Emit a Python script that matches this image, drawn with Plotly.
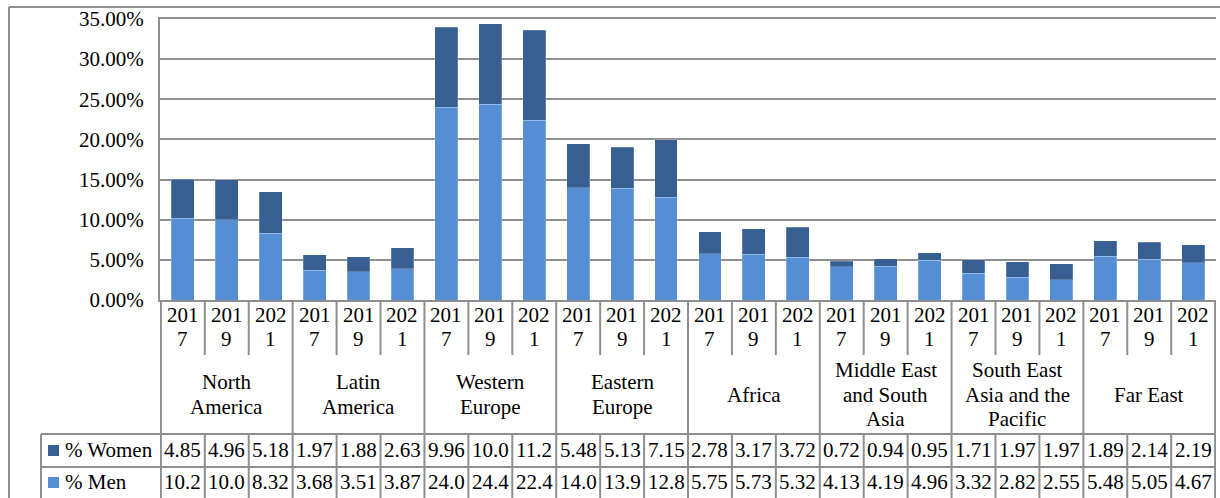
import plotly.graph_objects as go

# ---------------- data ----------------
regions = ["North America", "Latin America", "Western Europe", "Eastern Europe",
           "Africa", "Middle East and South Asia", "South East Asia and the Pacific", "Far East"]
region_lines = [["North", "America"], ["Latin", "America"], ["Western", "Europe"],
                ["Eastern", "Europe"], ["Africa"], ["Middle East", "and South", "Asia"],
                ["South East", "Asia and the", "Pacific"], ["Far East"]]
years = ["2017", "2019", "2021"]
women = [4.85, 4.96, 5.18, 1.97, 1.88, 2.63, 9.96, 10.0, 11.2, 5.48, 5.13, 7.15,
         2.78, 3.17, 3.72, 0.72, 0.94, 0.95, 1.71, 1.97, 1.97, 1.89, 2.14, 2.19]
men = [10.2, 10.0, 8.32, 3.68, 3.51, 3.87, 24.0, 24.4, 22.4, 14.0, 13.9, 12.8,
       5.75, 5.73, 5.32, 4.13, 4.19, 4.96, 3.32, 2.82, 2.55, 5.48, 5.05, 4.67]
series_names = ["% Women", "% Men"]
y_ticks = [0, 5, 10, 15, 20, 25, 30, 35]
y_tick_text = [f"{v:.2f}%" for v in y_ticks]

# ---------------- style ----------------
W, H = 1220, 498
L, R, T, B = 160, 4, 19, 0
C_MEN = "#558ed5"
C_WOMEN = "#375f92"
GRID = "#8e8e8e"
LW = 2
FONT = "Liberation Serif"
FS = 21

def py(p):
    return (H - B - p) / (H - T - B)

def pxp(p):
    return (p - L) / (W - L - R)

AXIS_PX, YEAR_BOT, REG_BOT, WOM_BOT, MEN_BOT = 300, 355, 434, 467, 500

n = len(men)
xs = list(range(n))
cats = [(regions[i // 3], years[i % 3]) for i in range(n)]

fig = go.Figure()
fig.add_bar(x=xs, y=men, name=series_names[1],
            marker=dict(color=C_MEN, line=dict(width=0.6, color="rgba(255,255,255,0.35)")))
fig.add_bar(x=xs, y=women, name=series_names[0],
            marker=dict(color=C_WOMEN, line=dict(width=0.6, color="rgba(255,255,255,0.35)")))

shapes = []
ann = []

def hline(x0, x1, p, xref="x"):
    shapes.append(dict(type="line", xref=xref, yref="paper", x0=x0, x1=x1, y0=py(p), y1=py(p),
                       line=dict(color=GRID, width=LW)))

def vline(x, p0, p1, xref="x"):
    shapes.append(dict(type="line", xref=xref, yref="paper", x0=x, x1=x, y0=py(p0), y1=py(p1),
                       line=dict(color=GRID, width=LW)))

# table grid
for k in range(n + 1):
    b = k - 0.5
    if k % 3 == 0:
        vline(b, AXIS_PX, MEN_BOT)
    else:
        vline(b, AXIS_PX, YEAR_BOT)
        vline(b, REG_BOT, MEN_BOT)
hline(-0.5, n - 0.5, REG_BOT)
hline(-0.5, n - 0.5, WOM_BOT)
# legend column box
hline(pxp(41), pxp(161), REG_BOT, xref="paper")
hline(pxp(41), pxp(161), WOM_BOT, xref="paper")
vline(pxp(41), REG_BOT, MEN_BOT, xref="paper")
# outer chart frame
vline(pxp(9), 7, MEN_BOT, xref="paper")
hline(pxp(9), pxp(W + 2), 7, xref="paper")

def text(x, p, s, xref="x", xanchor="center"):
    ann.append(dict(x=x, y=py(p), xref=xref, yref="paper", text=s, showarrow=False,
                    xanchor=xanchor, yanchor="middle", font=dict(family=FONT, size=FS, color="black")))

# year labels (wrapped as in the reference)
for i in range(n):
    yr = cats[i][1]
    text(i, 315, yr[:3])
    text(i, 339, yr[3:])

# region labels
for r, lines in enumerate(region_lines):
    centre = 3 * r + 1
    nl = len(lines)
    mid = (YEAR_BOT + REG_BOT) / 2
    for j, s in enumerate(lines):
        text(centre, mid + (j - (nl - 1) / 2) * 24.5, s)

def fmt(v):
    return f"{v:.1f}" if v >= 10 else f"{v:.2f}"

for i in range(n):
    text(i, 450, fmt(women[i]))
    text(i, 482, fmt(men[i]))

# legend keys + names
for name, col, p in [(series_names[0], C_WOMEN, 450.5), (series_names[1], C_MEN, 482.5)]:
    shapes.append(dict(type="rect", xref="paper", yref="paper", x0=pxp(48), x1=pxp(59),
                       y0=py(p + 5.5), y1=py(p - 5.5), fillcolor=col, line=dict(width=0)))
    text(pxp(63), p - 0.5, name, xref="paper", xanchor="left")

fig.update_layout(
    width=W, height=H,
    margin=dict(l=L, r=R, t=T, b=B),
    paper_bgcolor="white", plot_bgcolor="white",
    barmode="stack", bargap=0.48,
    showlegend=False,
    shapes=shapes, annotations=ann,
    xaxis=dict(range=[-0.52, n - 0.48], showticklabels=False, showgrid=False, zeroline=False,
               showline=True, mirror=True, linecolor=GRID, linewidth=LW, ticks=""),
    yaxis=dict(domain=[py(AXIS_PX), 1], range=[0, 35], tickvals=y_ticks, ticktext=y_tick_text,
               showgrid=True, gridcolor=GRID, gridwidth=LW,
               zeroline=False, showline=True, linecolor=GRID, linewidth=LW, ticks="",
               ticklabelstandoff=10, automargin=False,
               tickfont=dict(family=FONT, size=FS, color="black")),
)

fig.write_html("out.html", config={"displayModeBar": False},
               post_script="document.body.style.margin='0';document.body.style.overflow='hidden';")
